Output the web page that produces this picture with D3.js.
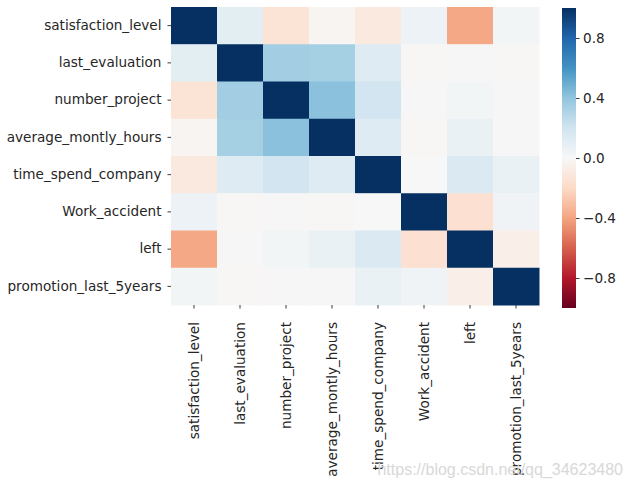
<!DOCTYPE html>
<html lang="en">
<head>
    <meta charset="UTF-8">
    <title>HR correlation heatmap</title>
    <script src="https://d3js.org/d3.v7.min.js"></script>
    <style>
        body { margin: 0; background: #fff; }
        text { font-family: "DejaVu Sans", sans-serif; fill: #262626; }
    </style>
</head>
<body>
<svg width="633" height="487"></svg>
<script>
    // columns of the data frame
    var columns = ["satisfaction_level", "last_evaluation", "number_project", "average_montly_hours",
                   "time_spend_company", "Work_accident", "left", "promotion_last_5years"];

    // correlation rows
    var satisfaction = [1, 0.105, -0.143, -0.020, -0.101, 0.059, -0.388, 0.026];
    var evaluation   = [0.105, 1, 0.349, 0.340, 0.132, -0.007, 0.007, -0.009];
    var projects     = [-0.143, 0.349, 1, 0.417, 0.197, -0.005, 0.024, -0.006];
    var hours        = [-0.020, 0.340, 0.417, 1, 0.128, -0.010, 0.071, -0.004];
    var tenure       = [-0.101, 0.132, 0.197, 0.128, 1, 0.002, 0.145, 0.067];
    var accident     = [0.059, -0.007, -0.005, -0.010, 0.002, 1, -0.155, 0.039];
    var left         = [-0.388, 0.007, 0.024, 0.071, 0.145, -0.155, 1, -0.062];
    var promotion    = [0.026, -0.009, -0.006, -0.004, 0.067, 0.039, -0.062, 1];
    var matrix = [satisfaction, evaluation, projects, hours, tenure, accident, left, promotion];

    var barTicks = [-0.8, -0.4, 0, 0.4, 0.8];

    var svg = d3.select("svg");
    var x0 = 171, x1 = 539, y0 = 7, y1 = 305;
    var fs = "13.6px";

    // RdBu_r, the colorbrewer stops spread out linearly like matplotlib does
    var stops = ["#67001f","#b2182b","#d6604d","#f4a582","#fddbc7","#f7f7f7",
                 "#d1e5f0","#92c5de","#4393c3","#2166ac","#053061"];
    var color = d3.scaleLinear()
        .domain(d3.range(stops.length).map(function (i) { return -1 + 2 * i / (stops.length - 1); }))
        .range(stops)
        .interpolate(d3.interpolateRgb);

    var x = d3.scaleBand().domain(columns).range([x0, x1]);
    var y = d3.scaleBand().domain(columns).range([y0, y1]);

    var cells = [];
    matrix.forEach(function (row, i) {
        row.forEach(function (v, j) { cells.push({r: columns[i], c: columns[j], v: v}); });
    });

    svg.append("g").selectAll("rect").data(cells).enter()
        .append("rect")
        .attr("x", function (d) { return x(d.c); })
        .attr("y", function (d) { return y(d.r); })
        .attr("width", x.bandwidth() + 0.5)
        .attr("height", y.bandwidth() + 0.5)
        .attr("fill", function (d) { return color(d.v); });

    // axes
    var yAxis = svg.append("g")
        .attr("transform", "translate(" + x0 + ",0)")
        .call(d3.axisLeft(y).tickSize(3.5).tickPadding(6));
    var xAxis = svg.append("g")
        .attr("transform", "translate(0," + y1 + ")")
        .call(d3.axisBottom(x).tickSize(3.5).tickPadding(3.5));
    xAxis.selectAll("text")
        .attr("transform", "rotate(-90)")
        .attr("text-anchor", "end")
        .attr("x", -17)
        .attr("y", 0)
        .attr("dy", "0.35em");
    [xAxis, yAxis].forEach(function (a) {
        a.select(".domain").remove();
        a.selectAll("line").attr("stroke", "#262626").attr("stroke-width", 0.9);
        a.selectAll("text").style("font-size", fs);
    });

    // colorbar
    var cbX = 562, cbW = 14;
    var cb = d3.scaleLinear().domain([-1, 1]).range([y1 + 3, y0 + 1]);
    var defs = svg.append("defs");
    var grad = defs.append("linearGradient").attr("id", "cbar")
        .attr("x1", 0).attr("y1", 1).attr("x2", 0).attr("y2", 0);
    grad.selectAll("stop").data(stops).enter()
        .append("stop")
        .attr("offset", function (d, i) { return i / (stops.length - 1); })
        .attr("stop-color", function (d) { return d; });
    svg.append("rect")
        .attr("x", cbX).attr("y", cb(1))
        .attr("width", cbW).attr("height", cb(-1) - cb(1))
        .attr("fill", "url(#cbar)");
    var cAxis = svg.append("g")
        .attr("transform", "translate(" + (cbX + cbW) + ",0)")
        .call(d3.axisRight(cb).tickValues(barTicks).tickSize(3.5).tickPadding(3.5)
            .tickFormat(function (d) { return d3.format(".1f")(d).replace("-", "\u2212"); }));
    cAxis.select(".domain").remove();
    cAxis.selectAll("line").attr("stroke", "#262626").attr("stroke-width", 0.9);
    cAxis.selectAll("text").style("font-size", fs);

    // watermark
    svg.append("text")
        .attr("x", 623).attr("y", 475)
        .attr("text-anchor", "end")
        .style("font-size", "16px")
        .style("fill", "#d8d8d8")
        .style("font-family", "Liberation Sans, Arial, sans-serif")
        .text("https://blog.csdn.net/qq_34623480");
</script>
</body>
</html>
